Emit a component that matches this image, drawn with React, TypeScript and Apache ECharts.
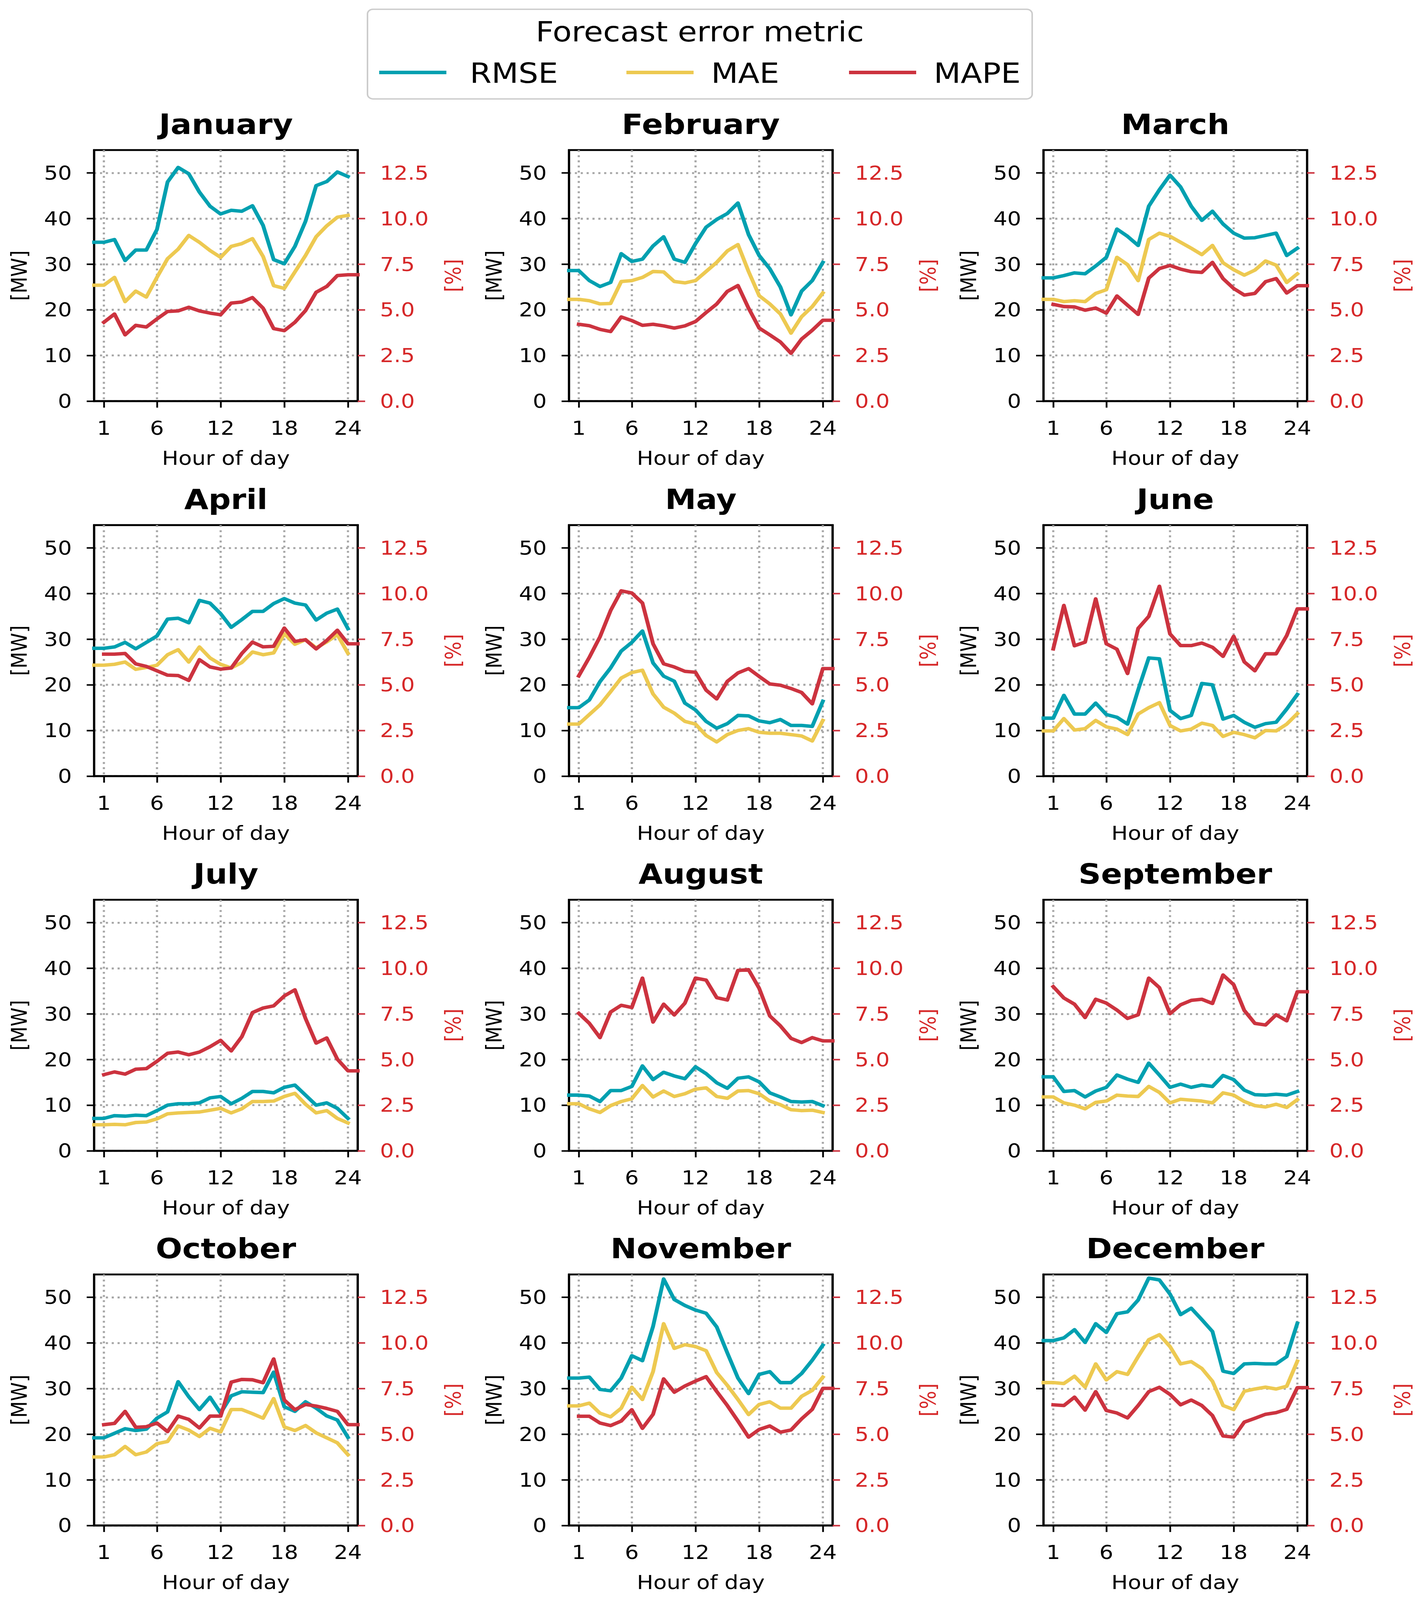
import React, { useEffect, useRef } from "react";
import * as echarts from "echarts";

const W = 3654;
const H = 4659;
const FONT = '"DejaVu Sans", "Liberation Sans", sans-serif';

const months = [
  "January", "February", "March", "April", "May", "June",
  "July", "August", "September", "October", "November", "December",
];
const hours = [1, 2, 3, 4, 5, 6, 7, 8, 9, 10, 11, 12, 13, 14, 15, 16, 17, 18, 19, 20, 21, 22, 23, 24];
const hourTicks = [1, 6, 12, 18, 24];
const mwTicks = [0, 10, 20, 30, 40, 50];
const pctTicks = [0, 2.5, 5, 7.5, 10, 12.5];
const metricNames = ["RMSE", "MAE", "MAPE"];
const metricColors = ["#00A0B0", "#EDC951", "#CC333F"];

// RMSE [MW] per month, hours 1..24
const rmseByMonth = [
  [34.8, 35.4, 30.8, 33.1, 33.1, 37.6, 48.0, 51.2, 49.8, 45.8, 42.7, 41.0, 41.8, 41.6, 42.8, 38.5, 31.0, 30.1, 33.9, 39.4, 47.2, 48.1, 50.2, 49.2],
  [28.6, 26.4, 25.1, 26.0, 32.3, 30.6, 31.1, 34.0, 36.0, 31.1, 30.4, 34.5, 38.1, 39.8, 41.1, 43.4, 36.5, 31.9, 29.0, 25.0, 18.9, 24.1, 26.4, 30.4],
  [27.0, 27.5, 28.1, 27.9, 29.6, 31.5, 37.7, 36.1, 34.1, 42.7, 46.3, 49.5, 46.9, 42.7, 39.6, 41.6, 38.8, 36.8, 35.7, 35.8, 36.3, 36.8, 31.9, 33.5],
  [28.0, 28.3, 29.3, 27.9, 29.3, 30.7, 34.4, 34.6, 33.6, 38.5, 37.9, 35.6, 32.6, 34.3, 36.1, 36.1, 37.8, 38.9, 37.9, 37.5, 34.2, 35.7, 36.6, 32.3],
  [15.0, 16.7, 20.7, 23.7, 27.4, 29.3, 31.8, 24.8, 21.9, 20.8, 16.0, 14.5, 12.0, 10.5, 11.5, 13.3, 13.2, 12.1, 11.7, 12.4, 11.1, 11.1, 10.9, 16.4],
  [12.7, 17.7, 13.6, 13.6, 16.0, 13.5, 12.9, 11.4, 18.9, 25.9, 25.7, 14.4, 12.6, 13.3, 20.3, 20.0, 12.5, 13.3, 11.8, 10.7, 11.5, 11.8, 14.7, 17.9],
  [7.1, 7.7, 7.6, 7.8, 7.7, 8.8, 10.0, 10.3, 10.3, 10.5, 11.6, 11.9, 10.3, 11.5, 13.0, 13.0, 12.7, 13.9, 14.4, 12.2, 10.0, 10.5, 9.3, 7.1],
  [12.2, 12.0, 10.8, 13.2, 13.2, 14.1, 18.6, 15.6, 17.2, 16.4, 15.8, 18.4, 16.9, 14.9, 13.7, 15.9, 16.2, 15.1, 12.7, 11.8, 10.8, 10.7, 10.8, 9.9],
  [16.2, 13.0, 13.2, 11.8, 13.1, 13.9, 16.6, 15.7, 15.0, 19.2, 16.6, 13.9, 14.6, 13.9, 14.4, 14.1, 16.5, 15.6, 13.3, 12.3, 12.2, 12.4, 12.2, 13.0],
  [19.2, 20.2, 21.2, 20.8, 21.1, 23.5, 24.9, 31.5, 28.2, 25.4, 28.1, 24.6, 28.4, 29.3, 29.2, 29.1, 33.6, 26.0, 25.0, 27.1, 25.7, 24.0, 23.1, 19.3],
  [32.3, 32.5, 29.8, 29.5, 32.3, 37.2, 36.1, 43.6, 54.0, 49.5, 48.2, 47.2, 46.5, 43.5, 37.8, 32.3, 28.9, 33.1, 33.7, 31.3, 31.3, 33.3, 36.2, 39.5],
  [40.5, 41.1, 42.9, 40.1, 44.2, 42.3, 46.4, 46.8, 49.4, 54.2, 53.8, 50.7, 46.2, 47.6, 45.1, 42.5, 33.8, 33.3, 35.4, 35.5, 35.4, 35.4, 37.0, 44.3],
];

// MAE [MW] per month, hours 1..24
const maeByMonth = [
  [25.4, 27.1, 21.8, 24.1, 22.8, 27.1, 31.2, 33.3, 36.3, 34.8, 33.0, 31.5, 33.9, 34.5, 35.6, 31.7, 25.3, 24.7, 28.3, 31.9, 36.0, 38.4, 40.3, 40.7],
  [22.3, 22.0, 21.3, 21.4, 26.2, 26.4, 27.1, 28.4, 28.3, 26.2, 25.9, 26.4, 28.4, 30.4, 32.9, 34.3, 28.4, 23.1, 21.3, 19.1, 14.9, 18.5, 20.7, 23.7],
  [22.3, 21.8, 22.0, 21.8, 23.6, 24.4, 31.5, 29.9, 26.4, 35.4, 36.8, 36.1, 34.8, 33.5, 32.1, 34.1, 30.3, 28.8, 27.6, 28.7, 30.7, 29.8, 26.0, 27.9],
  [24.3, 24.5, 25.0, 23.4, 23.8, 24.3, 26.6, 27.7, 25.0, 28.3, 25.9, 24.5, 23.7, 24.9, 27.2, 26.6, 27.0, 31.2, 28.9, 29.9, 28.1, 29.4, 31.0, 26.9],
  [11.4, 13.5, 15.6, 18.5, 21.5, 22.7, 23.2, 18.0, 15.1, 13.8, 12.0, 11.4, 8.9, 7.5, 9.1, 10.0, 10.4, 9.6, 9.4, 9.4, 9.1, 8.8, 7.7, 12.2],
  [9.9, 12.6, 10.1, 10.4, 12.2, 10.8, 10.3, 9.1, 13.6, 15.0, 16.1, 11.1, 9.9, 10.3, 11.6, 11.1, 8.7, 9.6, 9.1, 8.4, 10.0, 9.9, 11.4, 13.7],
  [5.7, 5.8, 5.7, 6.2, 6.3, 7.0, 8.1, 8.3, 8.4, 8.5, 8.9, 9.3, 8.3, 9.2, 10.8, 10.8, 10.9, 11.9, 12.6, 10.2, 8.3, 8.8, 7.1, 6.1],
  [10.3, 9.2, 8.4, 9.9, 10.8, 11.4, 14.3, 11.8, 13.1, 11.9, 12.5, 13.5, 13.8, 11.9, 11.5, 13.1, 13.2, 12.5, 10.9, 10.1, 9.0, 8.8, 8.9, 8.4],
  [11.8, 10.5, 10.0, 9.2, 10.6, 10.9, 12.2, 12.0, 11.9, 14.1, 12.8, 10.5, 11.3, 11.1, 10.9, 10.5, 12.7, 12.2, 10.8, 9.9, 9.6, 10.2, 9.5, 11.2],
  [15.0, 15.5, 17.3, 15.5, 16.1, 17.9, 18.4, 21.8, 20.9, 19.5, 21.3, 20.5, 25.4, 25.4, 24.5, 23.5, 27.8, 21.6, 20.8, 21.9, 20.3, 19.2, 18.1, 15.5],
  [26.2, 26.8, 24.6, 23.8, 25.7, 30.3, 27.6, 33.7, 44.2, 38.8, 39.6, 39.2, 38.3, 33.5, 30.7, 27.6, 24.3, 26.5, 27.1, 25.7, 25.7, 28.3, 29.6, 32.5],
  [31.3, 31.1, 32.7, 30.3, 35.4, 31.9, 33.7, 33.1, 37.0, 40.7, 41.8, 39.2, 35.4, 35.9, 34.4, 31.6, 26.3, 25.4, 29.4, 29.9, 30.3, 29.9, 30.5, 36.0],
];

// MAPE [%] per month, hours 1..24
const mapeByMonth = [
  [4.32, 4.77, 3.63, 4.15, 4.06, 4.50, 4.91, 4.94, 5.14, 4.94, 4.82, 4.73, 5.37, 5.43, 5.67, 5.09, 3.97, 3.86, 4.32, 4.96, 5.96, 6.28, 6.88, 6.92],
  [4.21, 4.13, 3.93, 3.81, 4.61, 4.41, 4.15, 4.21, 4.12, 4.00, 4.12, 4.36, 4.85, 5.32, 6.01, 6.33, 5.09, 4.00, 3.63, 3.24, 2.62, 3.40, 3.88, 4.43],
  [5.30, 5.18, 5.16, 4.98, 5.10, 4.82, 5.76, 5.25, 4.75, 6.74, 7.26, 7.43, 7.23, 7.09, 7.05, 7.60, 6.71, 6.17, 5.81, 5.90, 6.54, 6.71, 5.92, 6.32],
  [6.68, 6.68, 6.72, 6.15, 6.01, 5.77, 5.53, 5.51, 5.24, 6.38, 5.98, 5.86, 5.92, 6.72, 7.34, 7.08, 7.11, 8.11, 7.38, 7.47, 6.97, 7.43, 7.99, 7.25],
  [5.49, 6.51, 7.63, 9.07, 10.15, 10.03, 9.48, 7.25, 6.15, 5.98, 5.74, 5.69, 4.71, 4.23, 5.19, 5.65, 5.89, 5.46, 5.05, 4.98, 4.80, 4.58, 3.96, 5.89],
  [6.97, 9.35, 7.14, 7.34, 9.71, 7.25, 6.95, 5.62, 8.09, 8.75, 10.40, 7.79, 7.15, 7.15, 7.29, 7.06, 6.56, 7.66, 6.26, 5.77, 6.70, 6.70, 7.70, 9.16],
  [4.17, 4.32, 4.20, 4.47, 4.50, 4.90, 5.34, 5.41, 5.26, 5.41, 5.70, 6.05, 5.47, 6.25, 7.57, 7.82, 7.94, 8.48, 8.82, 7.25, 5.90, 6.18, 5.02, 4.38],
  [7.53, 6.98, 6.20, 7.60, 7.97, 7.85, 9.46, 7.05, 8.03, 7.44, 8.09, 9.46, 9.35, 8.39, 8.26, 9.88, 9.92, 8.90, 7.39, 6.84, 6.16, 5.93, 6.20, 6.02],
  [8.99, 8.37, 8.03, 7.30, 8.30, 8.09, 7.71, 7.25, 7.45, 9.46, 8.94, 7.51, 8.00, 8.24, 8.30, 8.07, 9.63, 9.10, 7.69, 6.98, 6.89, 7.45, 7.12, 8.71],
  [5.52, 5.59, 6.25, 5.38, 5.41, 5.61, 5.14, 5.99, 5.81, 5.34, 5.99, 5.99, 7.85, 8.00, 7.98, 7.82, 9.12, 6.87, 6.34, 6.63, 6.54, 6.41, 6.25, 5.52],
  [5.98, 5.98, 5.61, 5.47, 5.72, 6.34, 5.32, 6.09, 8.03, 7.30, 7.64, 7.91, 8.15, 7.34, 6.57, 5.72, 4.84, 5.26, 5.45, 5.11, 5.23, 5.84, 6.36, 7.51],
  [6.61, 6.57, 7.03, 6.32, 7.33, 6.30, 6.16, 5.89, 6.57, 7.33, 7.57, 7.18, 6.61, 6.87, 6.57, 6.02, 4.90, 4.84, 5.66, 5.87, 6.09, 6.18, 6.36, 7.55],
];

// layout (pixels, in the 3654x4659 design space)
const colLeft = [241, 1457, 2672];
const rowTop = [437, 1529, 2620, 3711];
const plotW = 675;
const plotH = 731;
const X_MIN = 0.08;
const X_MAX = 24.92;
const SMALL = 56;
const BIG = 80;
const RED_TEXT = "#d62728";
const LINE_W = 10;
const GRID_LINE = { color: "#a6a6a6", width: 5.5, type: [5.5, 9.5] };

function buildOption() {
  const grid: any[] = [];
  const xAxis: any[] = [];
  const yAxis: any[] = [];
  const series: any[] = [];
  const graphic: any[] = [];

  months.forEach((m, i) => {
    const r = Math.floor(i / 3);
    const c = i % 3;
    const left = colLeft[c];
    const top = rowTop[r];
    grid.push({
      left, top, width: plotW, height: plotH,
      show: true, borderColor: "#000", borderWidth: 5.5, backgroundColor: "transparent",
      containLabel: false,
    });
    xAxis.push({
      gridIndex: i, type: "value", min: X_MIN, max: X_MAX,
      axisLine: { show: true, lineStyle: { color: "#000", width: 5.5 } },
      axisTick: { show: true, customValues: hourTicks, length: 19, lineStyle: { color: "#000", width: 4.5 } },
      axisLabel: { customValues: hourTicks, margin: 50, fontSize: SMALL, color: "#000", fontFamily: FONT },
      splitLine: { show: true, lineStyle: GRID_LINE },
      name: "Hour of day", nameLocation: "middle", nameGap: 138,
      nameTextStyle: { fontSize: SMALL, color: "#000", fontFamily: FONT },
    });
    yAxis.push({
      gridIndex: i, type: "value", min: 0, max: 55, position: "left",
      axisLine: { show: true, lineStyle: { color: "#000", width: 5.5 } },
      axisTick: { show: true, customValues: mwTicks, length: 19, lineStyle: { color: "#000", width: 4.5 } },
      axisLabel: { customValues: mwTicks, margin: 57, fontSize: SMALL, color: "#000", fontFamily: FONT },
      splitLine: { show: true, lineStyle: GRID_LINE },
      name: "[MW]", nameLocation: "middle", nameGap: 165, nameRotate: 90,
      nameTextStyle: { fontSize: SMALL, color: "#000", fontFamily: FONT },
    });
    yAxis.push({
      gridIndex: i, type: "value", min: 0, max: 13.75, position: "right",
      axisLine: { show: true, lineStyle: { color: "#000", width: 5.5 } },
      axisTick: { show: true, customValues: pctTicks, length: 19, lineStyle: { color: "#CC333F", width: 4.5 } },
      axisLabel: {
        customValues: pctTicks, margin: 57, fontSize: SMALL, color: RED_TEXT, fontFamily: FONT,
        formatter: (v: number) => v.toFixed(1),
      },
      splitLine: { show: false },
      name: "[%]", nameLocation: "middle", nameGap: 215, nameRotate: 90,
      nameTextStyle: { fontSize: SMALL, color: RED_TEXT, fontFamily: FONT },
    });

    const rm = rmseByMonth[i];
    const ma = maeByMonth[i];
    const mp = mapeByMonth[i];
    const lineCommon = {
      type: "line", xAxisIndex: i, symbol: "none", showSymbol: false, clip: true,
      silent: true, animation: false,
    };
    // RMSE and MAE run flat in from the left frame edge; MAPE runs flat out to the right frame edge
    series.push({
      ...lineCommon, name: metricNames[0], yAxisIndex: 2 * i, z: 3,
      data: [[0, rm[0]], ...hours.map((h, k) => [h, rm[k]])],
      lineStyle: { color: metricColors[0], width: LINE_W, join: "round", cap: "square" },
      itemStyle: { color: metricColors[0] },
    });
    series.push({
      ...lineCommon, name: metricNames[1], yAxisIndex: 2 * i, z: 4,
      data: [[0, ma[0]], ...hours.map((h, k) => [h, ma[k]])],
      lineStyle: { color: metricColors[1], width: LINE_W, join: "round", cap: "square" },
      itemStyle: { color: metricColors[1] },
    });
    series.push({
      ...lineCommon, name: metricNames[2], yAxisIndex: 2 * i + 1, z: 5,
      data: [...hours.map((h, k) => [h, mp[k]]), [25, mp[23]]],
      lineStyle: { color: metricColors[2], width: LINE_W, join: "round", cap: "square" },
      itemStyle: { color: metricColors[2] },
    });

    graphic.push({
      type: "text", x: left + plotW / 2, y: top - 75, silent: true,
      style: {
        text: m, font: `bold ${BIG}px ${FONT}`, fill: "#000",
        textAlign: "center", textVerticalAlign: "middle", align: "center", verticalAlign: "middle",
      },
    });
  });

  // legend box
  const legendItems = [
    { x1: 971, x2: 1143, tx: 1203 },
    { x1: 1604, x2: 1776, tx: 1821 },
    { x1: 2174, x2: 2346, tx: 2391 },
  ];
  graphic.push({
    type: "rect", silent: true, z: 10,
    shape: { x: 941, y: 27, width: 1702, height: 261, r: 14 },
    style: { fill: "#fff", stroke: "#cccccc", lineWidth: 4 },
  });
  graphic.push({
    type: "text", x: 1792, y: 93, silent: true, z: 11,
    style: {
      text: "Forecast error metric", font: `${BIG}px ${FONT}`, fill: "#000",
      textAlign: "center", textVerticalAlign: "middle", align: "center", verticalAlign: "middle",
    },
  });
  legendItems.forEach((it, k) => {
    graphic.push({
      type: "line", silent: true, z: 11,
      shape: { x1: it.x1, y1: 211, x2: it.x2, y2: 211 },
      style: { stroke: metricColors[k], lineWidth: LINE_W },
    });
    graphic.push({
      type: "text", x: it.tx, y: 213, silent: true, z: 11,
      style: {
        text: metricNames[k], font: `${BIG}px ${FONT}`, fill: "#000",
        textAlign: "left", textVerticalAlign: "middle", align: "left", verticalAlign: "middle",
      },
    });
  });

  return {
    animation: false,
    backgroundColor: "#ffffff",
    textStyle: { fontFamily: FONT },
    grid, xAxis, yAxis, series, graphic,
  };
}

export default function App() {
  const ref = useRef<HTMLDivElement>(null);
  // the browser viewport may be shorter than the requested page; fit the whole figure into it
  const vw = typeof window !== "undefined" ? window.innerWidth || W : W;
  const vh = typeof window !== "undefined" ? window.innerHeight || H : H;
  const sx = Math.min(1, vw / W);
  const sy = Math.min(1, vh / H);

  useEffect(() => {
    document.body.style.margin = "0";
    document.body.style.overflow = "hidden";
    if (!ref.current) return;
    const chart = echarts.init(ref.current, undefined, { renderer: "svg", width: W, height: H });
    chart.setOption(buildOption() as any);
    return () => chart.dispose();
  }, []);

  return (
    <div style={{ width: W * sx, height: H * sy, overflow: "hidden", background: "#fff" }}>
      <div
        ref={ref}
        style={{
          width: W, height: H, background: "#fff",
          transform: `scale(${sx}, ${sy})`, transformOrigin: "0 0",
        }}
      />
    </div>
  );
}
